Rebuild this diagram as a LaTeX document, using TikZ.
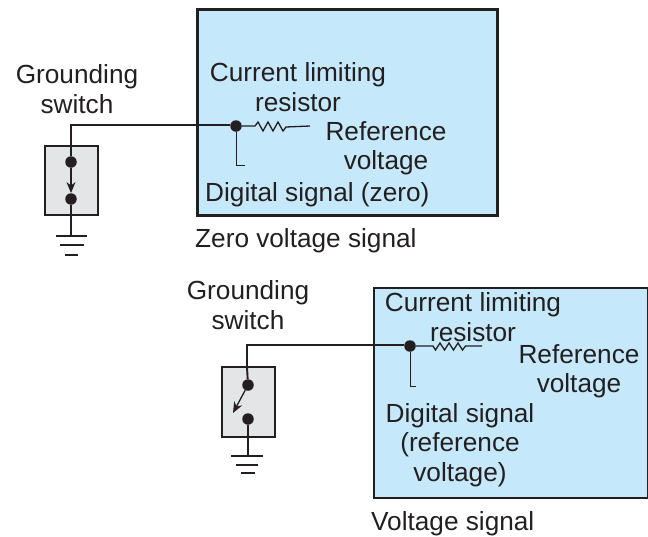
\documentclass[tikz,border=0pt]{standalone}
\usepackage{fontspec}
\setmainfont{Liberation Sans}
\usetikzlibrary{arrows.meta}
\definecolor{panelblue}{HTML}{C5E8FA}
\definecolor{switchgrey}{HTML}{E4E5E7}
\definecolor{inkdark}{HTML}{231F20}
\tikzset{
  panel/.style={draw=inkdark,line width=3pt,fill=panelblue,anchor=north west,inner sep=0pt,outer sep=0pt},
  swbox/.style={draw=inkdark,line width=2.4pt,fill=switchgrey,anchor=north west,inner sep=0pt,outer sep=0pt},
  junction/.style={circle,fill=inkdark,inner sep=0pt,minimum size=11.5pt},
  wire/.style={draw=inkdark,line width=1.9pt},
  thin wire/.style={draw=inkdark,line width=1.3pt},
  stub/.style={draw=inkdark,line width=1pt},
  lbl/.style={text=inkdark,font=\fontsize{26.2}{29.5}\selectfont,align=center,inner sep=0pt},
  lbll/.style={lbl,align=left,anchor=west},
}
\begin{document}
\begin{tikzpicture}[x=1pt,y=-1pt]
\useasboundingbox (0,0) rectangle (648,536);
% ---- top ----
\node[panel,minimum width=300pt,minimum height=206pt] (P1) at (197.5,9.5) {};
\node[swbox,minimum width=53pt,minimum height=69pt] (S1) at (45,146) {};
\node[junction] (T1) at (71,162) {};
\node[junction] (B1) at (71,199) {};
\node[junction] (J1) at (236,126) {};
\coordinate (C1) at (71,125);
\coordinate (R1a) at (255,126);
\coordinate (R1b) at (310,126);
\coordinate (D1) at (236,165);
\coordinate (E1) at (245,165);
\coordinate (G1) at (71,236);
\coordinate (G1al) at (56,236); \coordinate (G1ar) at (87,236);
\coordinate (G1bl) at (60,245); \coordinate (G1br) at (84,245);
\coordinate (G1cl) at (65,255); \coordinate (G1cr) at (78,255);
\draw[wire] (T1) -- (C1) -- (J1.west |- C1) -- (J1);
\draw[thin wire,line join=miter] (J1) -- (R1a) -- ++(3,-4) -- ++(5,9) -- ++(5,-9) -- ++(5,9) -- ++(5,-9) -- ++(5,9) -- ++(3,-4) -- (R1b);
\draw[stub] (J1) -- (D1) -- (E1);
\draw[wire] (B1) -- (G1);
\draw[wire] (G1al) -- (G1ar);
\draw[wire] (G1bl) -- (G1br);
\draw[wire] (G1cl) -- (G1cr);
\draw[thin wire,-{Stealth[length=11pt,width=9pt]}] (T1) -- (B1);
\node[lbl] (L1) at (77,89) {Grounding\\switch};
\node[lbl] (L2) at (298,87) {Current limiting\\resistor};
\node[lbl] (L3) at (386,148) {Reference\\voltage};
\node[lbll] (L4) at (205,195) {Digital signal (zero)};
\node[lbll] (L5) at (195,241) {Zero voltage signal};
% ---- bottom ----
\node[panel,line width=2.4pt,minimum width=274pt,minimum height=210pt] (P2) at (374,288) {};
\node[swbox,minimum width=53pt,minimum height=70pt] (S2) at (222,367) {};
\node[junction] (T2) at (248,385) {};
\node[junction] (B2) at (248,419) {};
\node[junction] (J2) at (410,346) {};
\coordinate (C2) at (247,345);
\coordinate (K2) at (247,367);
\coordinate (R2a) at (433,346);
\coordinate (R2b) at (482,346);
\coordinate (D2) at (410,386);
\coordinate (E2) at (416,386);
\coordinate (A2) at (233,413);
\coordinate (G2) at (248,456);
\coordinate (G2al) at (231,456); \coordinate (G2ar) at (263,456);
\coordinate (G2bl) at (236,465); \coordinate (G2br) at (258,465);
\coordinate (G2cl) at (241,473); \coordinate (G2cr) at (255,473);
\draw[wire] (T2) -- (K2) -- (C2) -- (J2.west |- C2) -- (J2);
\draw[thin wire,line join=miter] (J2) -- (R2a) -- ++(2.5,4) -- ++(4.5,-7) -- ++(4.5,7) -- ++(4.5,-7) -- ++(4.5,7) -- ++(4.5,-7) -- ++(4.5,7) -- ++(3,-4) -- (R2b);
\draw[stub] (J2) -- (D2) -- (E2);
\draw[wire] (B2) -- (G2);
\draw[wire] (G2al) -- (G2ar);
\draw[wire] (G2bl) -- (G2br);
\draw[wire] (G2cl) -- (G2cr);
\draw[thin wire,-{Stealth[length=11pt,width=9pt]}] (T2) -- (A2);
\node[lbl] (L6) at (248,305) {Grounding\\switch};
\node[lbl] (L7) at (473,317) {Current limiting\\resistor};
\node[lbl] (L8) at (579,371) {Reference\\voltage};
\node[lbl] (L9) at (460,445) {Digital signal\\(reference\\voltage)};
\node[lbll] (L10) at (371,524) {Voltage signal};
\end{tikzpicture}
\end{document}
